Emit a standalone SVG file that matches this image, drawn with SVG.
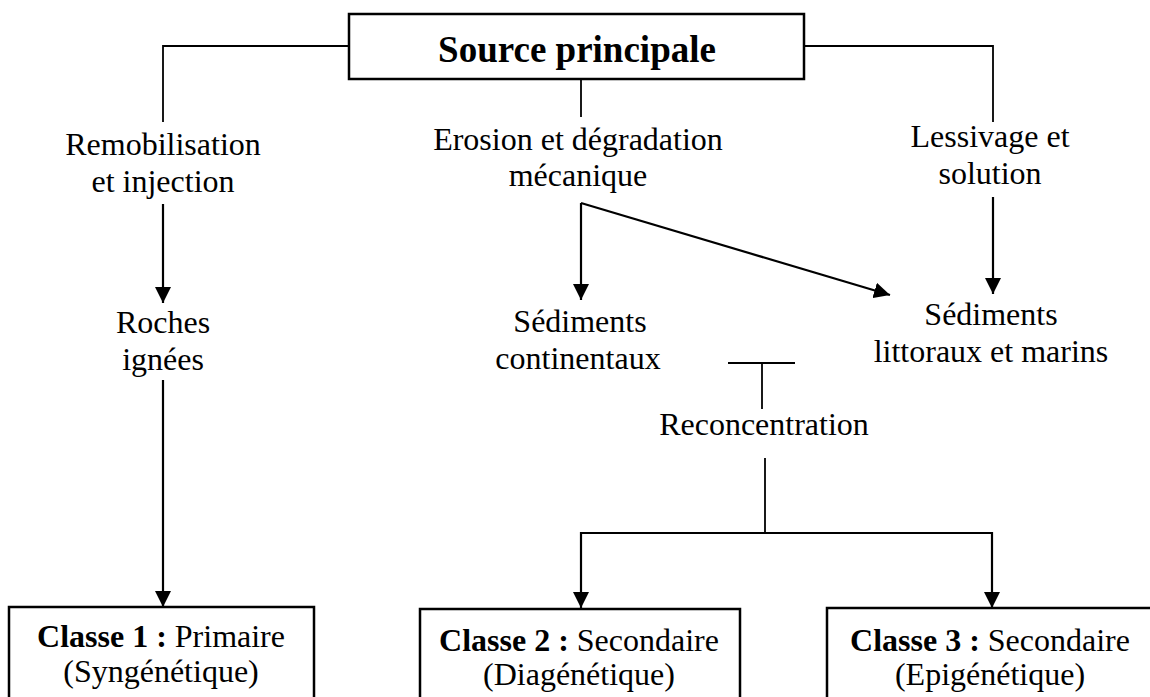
<svg xmlns="http://www.w3.org/2000/svg" width="1150" height="697" viewBox="0 0 1150 697">
<style>
  text { font-family: "Liberation Serif", "Times New Roman", serif; font-size: 32px; fill: #000; text-anchor: middle; }
  .title { font-size: 37px; font-weight: bold; }
  .b { font-weight: bold; }
  .box { fill: #fff; stroke: #000; stroke-width: 2.5; }
  .thin { fill: none; stroke: #000; stroke-width: 1.8; }
  .arr { fill: none; stroke: #000; stroke-width: 2.2; marker-end: url(#ah); }
</style>
<defs>
  <marker id="ah" markerUnits="userSpaceOnUse" markerWidth="16" markerHeight="16" refX="16" refY="8" orient="auto" viewBox="0 0 16 16">
    <path d="M0,0 L16,8 L0,16 z" fill="#000"/>
  </marker>
</defs>
<rect width="1150" height="697" fill="#fff"/>
<g id="connectors">
  <polyline class="thin" points="163,122 163,46 349,46"/>
  <polyline class="thin" points="804,46 993,46 993,122"/>
  <line class="thin" x1="581" y1="79" x2="581" y2="117"/>
  <line class="arr" x1="163" y1="204" x2="163" y2="303"/>
  <line class="arr" x1="163" y1="380" x2="163" y2="607"/>
  <line class="arr" x1="581" y1="203" x2="581" y2="300"/>
  <line class="arr" x1="581" y1="203" x2="890" y2="295"/>
  <line class="arr" x1="993" y1="197" x2="993" y2="294"/>
  <line class="thin" x1="728" y1="363" x2="795" y2="363"/>
  <line class="thin" x1="762" y1="363" x2="762" y2="409"/>
  <line class="thin" x1="765" y1="458" x2="765" y2="533"/>
  <polyline class="thin" style="stroke-width:2.2" points="581,533 992,533"/>
  <line class="arr" x1="581" y1="532" x2="581" y2="608"/>
  <line class="arr" x1="992" y1="532" x2="992" y2="608"/>
</g>
<g id="source">
  <rect class="box" x="349" y="14" width="455" height="65"/>
  <text class="title" x="577" y="62">Source principale</text>
</g>
<g id="remobilisation">
  <text x="163" y="155">Remobilisation</text>
  <text x="163" y="192">et injection</text>
</g>
<g id="erosion">
  <text x="578" y="150">Erosion et dégradation</text>
  <text x="578" y="186">mécanique</text>
</g>
<g id="lessivage">
  <text x="990" y="147">Lessivage et</text>
  <text x="990" y="184">solution</text>
</g>
<g id="roches">
  <text x="163" y="333">Roches</text>
  <text x="163" y="370">ignées</text>
</g>
<g id="sed-continentaux">
  <text x="580" y="332">Sédiments</text>
  <text x="578" y="369">continentaux</text>
</g>
<g id="sed-littoraux">
  <text x="991" y="325">Sédiments</text>
  <text x="991" y="362">littoraux et marins</text>
</g>
<g id="reconcentration">
  <text x="764" y="435">Reconcentration</text>
</g>
<g id="classe1">
  <rect class="box" x="9" y="607" width="305" height="110"/>
  <text x="161" y="647"><tspan class="b">Classe 1 :</tspan> Primaire</text>
  <text x="161" y="682">(Syngénétique)</text>
</g>
<g id="classe2">
  <rect class="box" x="420" y="609" width="320" height="110"/>
  <text x="579" y="651"><tspan class="b">Classe 2 :</tspan> Secondaire</text>
  <text x="579" y="685">(Diagénétique)</text>
</g>
<g id="classe3">
  <rect class="box" x="827" y="608" width="326" height="110"/>
  <text x="990" y="651"><tspan class="b">Classe 3 :</tspan> Secondaire</text>
  <text x="990" y="685">(Epigénétique)</text>
</g>
</svg>
